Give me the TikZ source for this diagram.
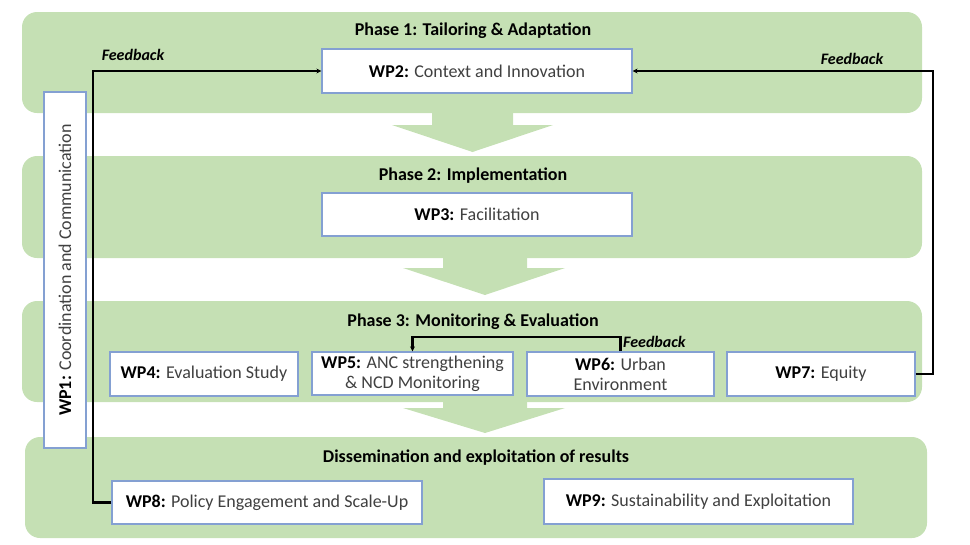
\documentclass[tikz,border=0pt]{standalone}
\usepackage{fontspec}
\setmainfont{Carlito}
\usetikzlibrary{arrows.meta}
\definecolor{panelgreen}{RGB}{197,224,180}
\definecolor{boxline}{RGB}{132,160,210}
\definecolor{bodygray}{RGB}{64,64,64}

\begin{document}
\begin{tikzpicture}[x=1pt, y=-1pt,
    panel/.style={fill=panelgreen, rounded corners=15pt},
    wpbox/.style={draw=boxline, line width=1.2pt, fill=white, inner sep=2pt,
      text=bodygray, font=\fontsize{18}{20}\selectfont, align=center},
    title/.style={font=\fontsize{18}{20}\selectfont\bfseries},
    fb/.style={font=\fontsize{16}{18}\selectfont\bfseries\itshape},
    link/.style={line width=2.1pt, -{Stealth[length=5pt, width=5pt]}},
  ]
  \useasboundingbox (0,0) rectangle (970,544);

  % phases
  \fill[panel] (22,12) rectangle (922,113);
  \fill[panel] (22,156) rectangle (922,258);
  \fill[panel] (22,301) rectangle (922,402);
  \fill[panel] (25,437) rectangle (927,538);

  % down arrows between the phases
  \fill[panelgreen] (432,105) -- (432,125) -- (392,125) -- (472.5,152)
    -- (553,125) -- (513,125) -- (513,105) -- cycle;
  \fill[panelgreen] (443,250) -- (443,268) -- (403,268) -- (485,295)
    -- (565,268) -- (527,268) -- (527,250) -- cycle;
  \fill[panelgreen] (443,395) -- (443,408) -- (403,408) -- (485,433)
    -- (565,408) -- (527,408) -- (527,395) -- cycle;

  \node[title] (t1) at (473,31) {Phase 1: Tailoring \& Adaptation};
  \node[title] (t2) at (473,176) {Phase 2: Implementation};
  \node[title] (t3) at (473,322) {Phase 3: Monitoring \& Evaluation};
  \node[title] (t4) at (476,458) {Dissemination and exploitation of results};

  % work packages
  \node[wpbox, minimum width=356pt, minimum height=42pt, rotate=90] (wp1) at (65,270)
    {\textcolor{black}{\bfseries WP1:} Coordination and Communication};
  \node[wpbox, minimum width=310pt, minimum height=44pt] (wp2) at (477,71)
    {\textcolor{black}{\bfseries WP2:} Context and Innovation};
  \node[wpbox, minimum width=310pt, minimum height=43pt] (wp3) at (477,214.5)
    {\textcolor{black}{\bfseries WP3:} Facilitation};
  \node[wpbox, minimum width=188pt, minimum height=44pt] (wp4) at (204,374)
    {\textcolor{black}{\bfseries WP4:} Evaluation Study};
  \node[wpbox, minimum width=201pt, minimum height=43pt] (wp5) at (412.5,373.5)
    {\textcolor{black}{\bfseries WP5:} ANC strengthening\\ \& NCD Monitoring};
  \node[wpbox, minimum width=187pt, minimum height=44pt] (wp6) at (620.5,374)
    {\textcolor{black}{\bfseries WP6:} Urban\\ Environment};
  \node[wpbox, minimum width=188pt, minimum height=44pt] (wp7) at (821,374)
    {\textcolor{black}{\bfseries WP7:} Equity};
  \node[wpbox, minimum width=310pt, minimum height=43pt] (wp8) at (267,502.5)
    {\textcolor{black}{\bfseries WP8:} Policy Engagement and Scale-Up};
  \node[wpbox, minimum width=309pt, minimum height=45pt] (wp9) at (698.5,501.5)
    {\textcolor{black}{\bfseries WP9:} Sustainability and Exploitation};

  % feedback loops
  \coordinate (fbl) at (93,71);
  \coordinate (fbr) at (933,71);
  \draw[link] (wp8.west) -| (fbl) -- (wp2.west);
  \draw[link] (wp7.east) -| (fbr) -- (wp2.east);
  \draw[link] (wp6.north) -- ++(0,-14) -| (wp5.north);

  \node[fb] (fb1) at (133,55) {Feedback};
  \node[fb] (fb2) at (852,59) {Feedback};
  \node[fb, anchor=west, inner sep=1pt] (fb3) at (622,342) {Feedback};
\end{tikzpicture}
\end{document}
